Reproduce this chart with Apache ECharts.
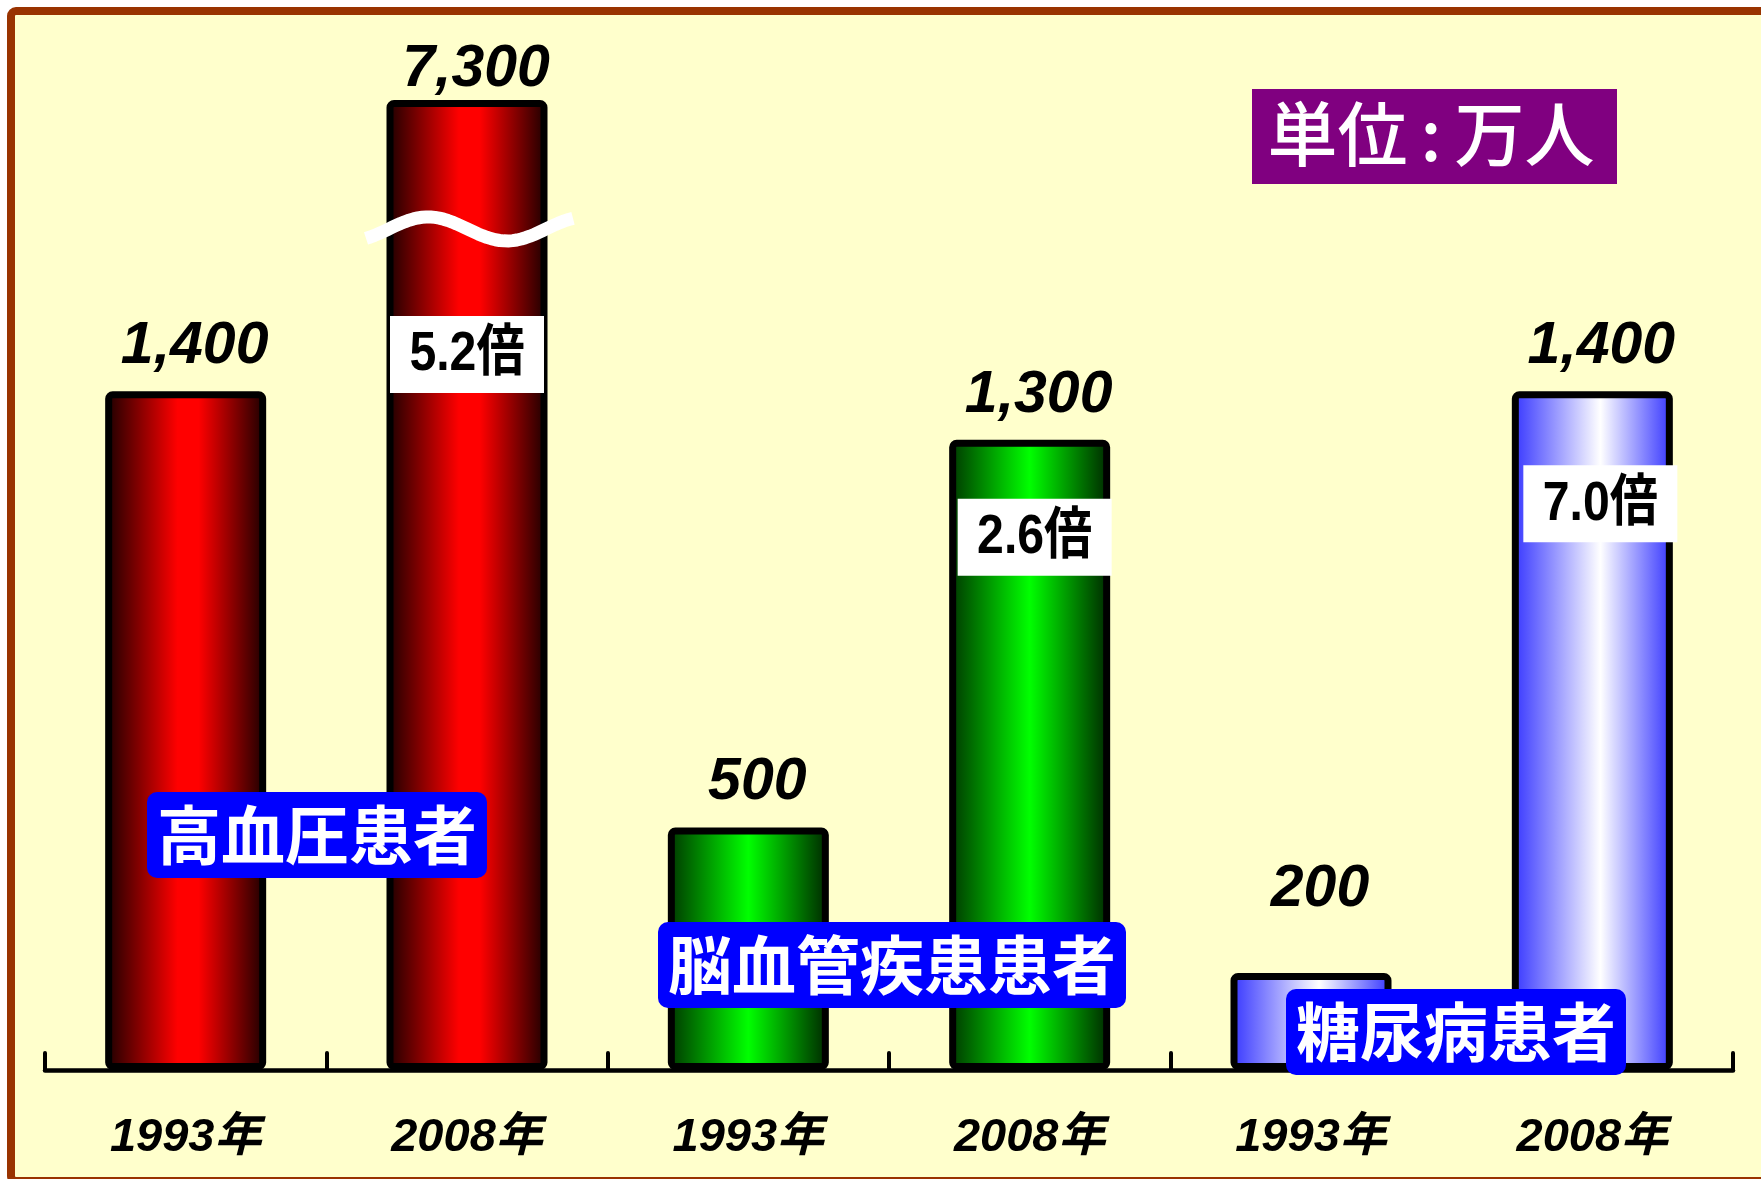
<!DOCTYPE html>
<html>
<head>
<meta charset="utf-8">
<script src="https://cdn.jsdelivr.net/npm/echarts@6/dist/echarts.min.js"></script>
<style>
  html, body { margin: 0; padding: 0; background: #ffffff; }
  #chart { width: 1761px; height: 1179px; }
</style>
</head>
<body>
<div id="chart"></div>
<script>
// ---- data ----
const years = ['1993年', '2008年', '1993年', '2008年', '1993年', '2008年'];
const patients = [1400, 7300, 500, 1300, 200, 1400];          // 万人
const groupNames = ['高血圧患者', '脳血管疾患患者', '糖尿病患者'];
const groupOfBar = [0, 0, 1, 1, 2, 2];
const unitParts = ['単位', ':', '万人'];

// y-axis break that folds the tall 2008 hypertension bar
const breakStart = 1735;
const breakEnd = 7035;

// ---- styling ----
const NUM_FONT = '"Liberation Sans", Arial, "Noto Sans CJK JP", sans-serif';
const CJK_FONT = '"Noto Sans CJK JP", sans-serif';

const palettes = [
  [[0, '#180000'], [0.45, '#ff0000'], [0.58, '#ff0000'], [1, '#180000']],
  [[0, '#003400'], [0.5, '#00ff00'], [1, '#002400']],
  [[0, '#3333ff'], [0.55, '#ffffff'], [1, '#3333ff']]
];
function gradient(stops) {
  return new echarts.graphic.LinearGradient(0, 0, 1, 0,
    stops.map(([o, c]) => ({ offset: o, color: c })));
}

// gap between bar top and its value label, per bar (px)
const labelLift = [15, 1, 15, 15, 54, 15];
// white ratio boxes: drop below bar top (px) and sideways nudge (px)
const ratioBoxes = { 1: { drop: 216, dx: 0 }, 3: { drop: 59, dx: 5 }, 5: { drop: 74, dx: 8 } };
// group caption centres (px)
const groupBoxes = [
  { x: 317, y: 835 },
  { x: 892, y: 965 },
  { x: 1456, y: 1032 }
];

const chart = echarts.init(document.getElementById('chart'), null, { renderer: 'canvas' });

const barData = patients.map((v, i) => ({
  value: v,
  itemStyle: { color: gradient(palettes[groupOfBar[i]]) },
  label: { distance: labelLift[i] }
}));

chart.setOption({
  backgroundColor: '#ffffff',
  animation: false,
  grid: { left: 45, right: 28, top: 100, bottom: 109, containLabel: false, outerBoundsMode: 'none' },
  xAxis: {
    type: 'category',
    data: years,
    boundaryGap: true,
    offset: 2,
    axisLine: { show: true, lineStyle: { color: '#000000', width: 4.5 } },
    axisTick: {
      show: true, interval: 0, alignWithLabel: false,
      inside: true, length: 17,
      lineStyle: { color: '#000000', width: 4, cap: 'round' }
    },
    axisLabel: {
      margin: 43,
      color: '#000000',
      fontSize: 47,
      fontWeight: 'bold',
      fontStyle: 'italic',
      fontFamily: NUM_FONT
    },
    z: 3
  },
  yAxis: {
    type: 'value',
    min: 0,
    max: 7300,
    breaks: [{ start: breakStart, end: breakEnd, gap: 1 }],
    breakArea: { show: false },
    axisLine: { show: false },
    axisTick: { show: false },
    axisLabel: { show: false },
    splitLine: { show: false }
  },
  series: [{
    type: 'bar',
    data: barData,
    barWidth: 161,
    itemStyle: { borderColor: '#000000', borderWidth: 7, borderRadius: 4 },
    label: {
      show: true,
      position: 'top',
      offset: [9, 0],
      formatter: p => p.value.toLocaleString('en-US'),
      color: '#000000',
      fontSize: 59,
      fontWeight: 'bold',
      fontStyle: 'italic',
      fontFamily: NUM_FONT
    },
    z: 2
  }]
});

// ---- decorations placed through the chart's own coordinate system ----
const graphics = [];

graphics.push({
  id: 'frame', type: 'rect', z: -1, silent: true,
  shape: { x: 11, y: 11, width: 1800, height: 1170, r: 5 },
  style: { fill: '#ffffcc', stroke: '#993300', lineWidth: 8 }
});

graphics.push({
  id: 'unitBox', type: 'rect', z: 10, silent: true,
  shape: { x: 1252, y: 89, width: 365, height: 95 },
  style: { fill: '#800080' }
});
graphics.push({
  id: 'unitText', type: 'text', z: 11, silent: true,
  x: 1431, y: 134,
  style: {
    text: '{a|' + unitParts[0] + '}{c|' + unitParts[1] + '}{a|' + unitParts[2] + '}',
    align: 'center', verticalAlign: 'middle',
    rich: {
      a: { fill: '#ffffff', font: '500 70px ' + CJK_FONT },
      c: { fill: '#ffffff', font: '500 70px ' + CJK_FONT, padding: [0, 13] }
    }
  }
});

// white ratio boxes (later year / earlier year)
Object.keys(ratioBoxes).forEach(k => {
  const i = Number(k);
  const cfg = ratioBoxes[k];
  const top = chart.convertToPixel({ xAxisIndex: 0, yAxisIndex: 0 }, [i, patients[i]]);
  const cx = top[0] + cfg.dx;
  const y0 = top[1] + cfg.drop;
  const ratio = (patients[i] / patients[i - 1]).toFixed(1) + '倍';
  graphics.push({
    id: 'ratioBox' + i, type: 'rect', z: 6, silent: true,
    shape: { x: cx - 77, y: y0, width: 154, height: 77 },
    style: { fill: '#ffffff' }
  });
  graphics.push({
    id: 'ratioText' + i, type: 'text', z: 7, silent: true,
    x: cx, y: y0 + 39, scaleX: 0.86,
    style: {
      text: ratio, fill: '#000000',
      font: 'bold 56px ' + NUM_FONT,
      align: 'center', verticalAlign: 'middle'
    }
  });
});

// wavy cut mark across the folded bar
(function () {
  const p = chart.convertToPixel({ xAxisIndex: 0, yAxisIndex: 0 }, [1, breakStart]);
  const pts = [];
  for (let k = 0; k <= 48; k++) {
    const t = k / 48;
    pts.push([p[0] - 101 + 207 * t, p[1] + 12 * Math.cos(2 * Math.PI * (t + 0.08) / 0.76)]);
  }
  graphics.push({
    id: 'breakWave', type: 'polyline', z: 8, silent: true,
    shape: { points: pts },
    style: { stroke: '#ffffff', lineWidth: 13, lineCap: 'butt', lineJoin: 'round', fill: null }
  });
})();

// blue group captions
groupNames.forEach((name, g) => {
  graphics.push({
    id: 'group' + g, type: 'text', z: 12, silent: true,
    x: groupBoxes[g].x, y: groupBoxes[g].y,
    style: {
      text: name, fill: '#ffffff',
      font: 'bold 64px ' + CJK_FONT,
      align: 'center', verticalAlign: 'middle',
      backgroundColor: '#0000ff',
      padding: [11, 10],
      borderRadius: 10
    }
  });
});

chart.setOption({ graphic: graphics });
</script>
</body>
</html>
